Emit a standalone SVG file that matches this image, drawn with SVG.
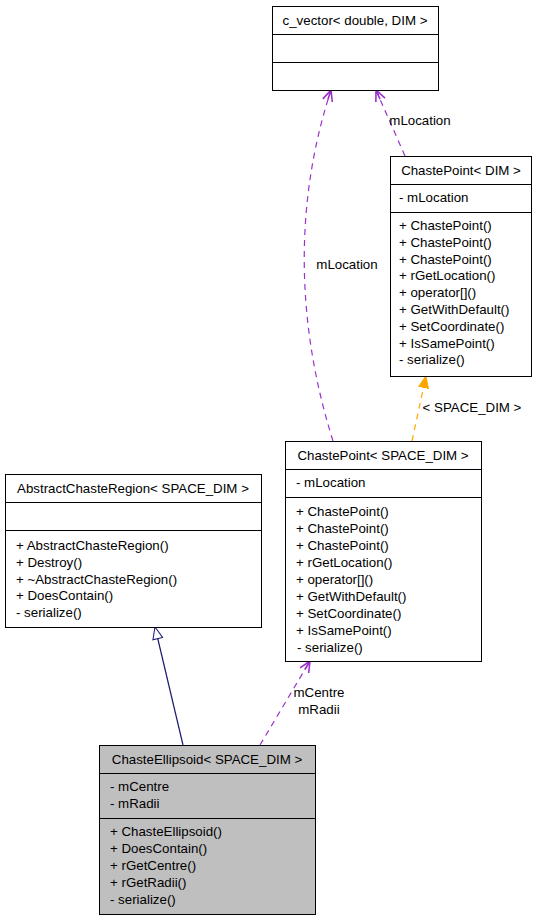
<svg xmlns="http://www.w3.org/2000/svg" width="536" height="920" viewBox="0 0 536 920">
<style>
text{font-family:"Liberation Sans",Arial,sans-serif;font-size:13.3px;fill:#000}
.box{fill:#fff;stroke:#000;stroke-width:1}
.gbox{fill:#bfbfbf;stroke:#000;stroke-width:1}
.ln{stroke:#000;stroke-width:1}
.dep{fill:none;stroke:#9a32cd;stroke-dasharray:6,5;stroke-width:1.2}
.tpl{fill:none;stroke:#ffa500;stroke-dasharray:6,5;stroke-width:1.2}
.inh{fill:none;stroke:#191970;stroke-width:1.2}
.mid{text-anchor:middle}
</style>
<defs>
<marker id="vee" markerWidth="14" markerHeight="14" refX="12" refY="6" orient="auto" markerUnits="userSpaceOnUse">
<path d="M1,1 L12,6 L1,11 M12,6 L2,6" fill="none" stroke="#9a32cd" stroke-width="1.6"/>
</marker>
<marker id="orng" markerWidth="14" markerHeight="14" refX="12" refY="6" orient="auto" markerUnits="userSpaceOnUse">
<path d="M0,1 L12,6 L0,11 z" fill="#ffa500" stroke="#ffa500"/>
</marker>
<marker id="tri" markerWidth="16" markerHeight="16" refX="13" refY="6" orient="auto" markerUnits="userSpaceOnUse">
<path d="M1,1 L13,6 L1,11 z" fill="#fff" stroke="#191970" stroke-width="1"/>
</marker>
</defs>

<g id="connectors">
<path class="inh" d="M183,745 L155,627" marker-end="url(#tri)"/>
<path class="dep" d="M260,745 L310,661" marker-end="url(#vee)"/>
<path class="dep" d="M333,441 C295,320 295,200 331,90" marker-end="url(#vee)"/>
<path class="dep" d="M405,156 L376,90" marker-end="url(#vee)"/>
<path class="tpl" d="M412,441 L426,376" marker-end="url(#orng)"/>
<text x="319" y="697" class="mid">mCentre</text>
<text x="319" y="714" class="mid">mRadii</text>
<text x="347" y="269" class="mid">mLocation</text>
<text x="420" y="125" class="mid">mLocation</text>
<text x="472" y="412" class="mid">&lt; SPACE_DIM &gt;</text>
</g>

<g id="c_vector">
<rect class="box" x="272.5" y="6.5" width="166" height="84"/>
<line class="ln" x1="272.5" y1="34.5" x2="438.5" y2="34.5"/>
<line class="ln" x1="272.5" y1="62.5" x2="438.5" y2="62.5"/>
<text x="355" y="25" class="mid">c_vector&lt; double, DIM &gt;</text>
</g>

<g id="ChastePoint_DIM">
<rect class="box" x="390.5" y="156.5" width="141" height="220"/>
<line class="ln" x1="390.5" y1="184.5" x2="531.5" y2="184.5"/>
<line class="ln" x1="390.5" y1="212.5" x2="531.5" y2="212.5"/>
<text x="461" y="175" class="mid">ChastePoint&lt; DIM &gt;</text>
<text x="399" y="202">- mLocation</text>
<text x="399" y="230">+ ChastePoint()</text>
<text x="399" y="247">+ ChastePoint()</text>
<text x="399" y="264">+ ChastePoint()</text>
<text x="399" y="280">+ rGetLocation()</text>
<text x="399" y="297">+ operator[]()</text>
<text x="399" y="314">+ GetWithDefault()</text>
<text x="399" y="331">+ SetCoordinate()</text>
<text x="399" y="348">+ IsSamePoint()</text>
<text x="399" y="364">- serialize()</text>
</g>

<g id="ChastePoint_SPACE_DIM">
<rect class="box" x="285.5" y="441.5" width="196" height="220"/>
<line class="ln" x1="285.5" y1="469.5" x2="481.5" y2="469.5"/>
<line class="ln" x1="285.5" y1="497.5" x2="481.5" y2="497.5"/>
<text x="383" y="460" class="mid">ChastePoint&lt; SPACE_DIM &gt;</text>
<text x="296" y="487">- mLocation</text>
<text x="296" y="516">+ ChastePoint()</text>
<text x="296" y="533">+ ChastePoint()</text>
<text x="296" y="550">+ ChastePoint()</text>
<text x="296" y="567">+ rGetLocation()</text>
<text x="296" y="584">+ operator[]()</text>
<text x="296" y="601">+ GetWithDefault()</text>
<text x="296" y="618">+ SetCoordinate()</text>
<text x="296" y="635">+ IsSamePoint()</text>
<text x="297" y="652">- serialize()</text>
</g>

<g id="AbstractChasteRegion">
<rect class="box" x="5.5" y="474.5" width="256" height="153"/>
<line class="ln" x1="5.5" y1="502.5" x2="261.5" y2="502.5"/>
<line class="ln" x1="5.5" y1="530.5" x2="261.5" y2="530.5"/>
<text x="133" y="493" class="mid">AbstractChasteRegion&lt; SPACE_DIM &gt;</text>
<text x="16" y="550">+ AbstractChasteRegion()</text>
<text x="16" y="567">+ Destroy()</text>
<text x="16" y="584">+ ~AbstractChasteRegion()</text>
<text x="16" y="600">+ DoesContain()</text>
<text x="16" y="617">- serialize()</text>
</g>

<g id="ChasteEllipsoid">
<rect class="gbox" x="99.5" y="745.5" width="216" height="169"/>
<line class="ln" x1="99.5" y1="773.5" x2="315.5" y2="773.5"/>
<line class="ln" x1="99.5" y1="818.5" x2="315.5" y2="818.5"/>
<text x="207" y="764" class="mid">ChasteEllipsoid&lt; SPACE_DIM &gt;</text>
<text x="110" y="791">- mCentre</text>
<text x="110" y="808">- mRadii</text>
<text x="110" y="836">+ ChasteEllipsoid()</text>
<text x="110" y="853">+ DoesContain()</text>
<text x="110" y="870">+ rGetCentre()</text>
<text x="110" y="887">+ rGetRadii()</text>
<text x="110" y="904">- serialize()</text>
</g>
</svg>
